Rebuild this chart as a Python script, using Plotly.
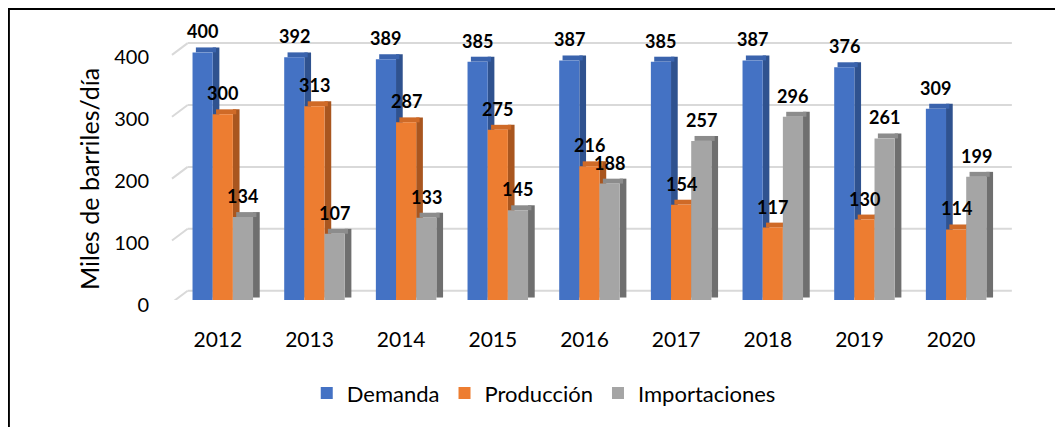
import plotly.graph_objects as go

years = ["2012", "2013", "2014", "2015", "2016", "2017", "2018", "2019", "2020"]
demanda = [400, 392, 389, 385, 387, 385, 387, 376, 309]
produccion = [300, 313, 287, 275, 216, 154, 117, 130, 114]
importaciones = [134, 107, 133, 145, 188, 257, 296, 261, 199]
yticks = [0, 100, 200, 300, 400]

# name, values, front colour, side colour, top colour, offset in category units
series = [
    ("Demanda", demanda, "#4472C4", "#2F528F", "#3A63AD", -0.276),
    ("Producción", produccion, "#ED7D31", "#A9561F", "#CF6A27", -0.056),
    ("Importaciones", importaciones, "#A5A5A5", "#6F6F6F", "#8C8C8C", 0.164),
]
bar_w = 0.22      # front face width
depth_x = 0.073   # side face width (category units)
depth_y = 8       # side face rise (value units)

x_idx = list(range(len(years)))

fig = go.Figure()
for name, vals, front, side, top, off in series:
    # side face
    fig.add_trace(go.Bar(x=x_idx, y=[v + depth_y / 2 for v in vals], base=depth_y / 2,
                         offset=off + bar_w, width=depth_x, marker=dict(color=side, line=dict(width=0)),
                         showlegend=False, hoverinfo="skip"))
    # top face
    fig.add_trace(go.Bar(x=x_idx, y=[depth_y] * len(vals), base=vals,
                         offset=off + depth_x / 2, width=bar_w, marker=dict(color=top, line=dict(width=0)),
                         showlegend=False, hoverinfo="skip"))
    # front face
    fig.add_trace(go.Bar(x=x_idx, y=vals, name=name, offset=off, width=bar_w,
                         marker=dict(color=front, line=dict(width=0))))

# data labels above each bar
for name, vals, front, side, top, off in series:
    for i, v in zip(x_idx, vals):
        fig.add_annotation(x=i + off + bar_w / 2, y=v, text=str(v), showarrow=False, yshift=21,
                           yanchor="middle", font=dict(family="Lato", size=18, color="black", weight="bold"))

# y axis title
fig.add_annotation(text="Miles de barriles/día", xref="paper", yref="paper", x=-0.1007, y=0.465,
                   textangle=-90, showarrow=False, xanchor="center", yanchor="middle",
                   font=dict(family="Lato", size=25, color="black"))

# back-wall gridlines with the little diagonal at the front
grid_shapes = []
for t in yticks:
    grid_shapes.append(dict(type="line", xref="paper", yref="y", x0=0.019, x1=1.018, y0=t + 15, y1=t + 15,
                            line=dict(color="#D9D9D9", width=2), layer="below"))
    grid_shapes.append(dict(type="line", xref="paper", yref="y", x0=0, x1=0.019, y0=t - 4, y1=t + 15,
                            line=dict(color="#D9D9D9", width=2), layer="below"))

fig.update_layout(
    width=1063, height=427,
    margin=dict(l=164, r=74, t=32, b=135),
    barmode="overlay",
    plot_bgcolor="white", paper_bgcolor="white",
    font=dict(family="Lato", color="black"),
    xaxis=dict(tickvals=x_idx, ticktext=years, range=[-0.5, len(years) - 0.5], autorange=False,
               showgrid=False, showline=False, zeroline=False, ticks="", tickfont=dict(size=21),
               ticklabelstandoff=25),
    yaxis=dict(range=[0, 420], autorange=False, tickvals=yticks, showgrid=False,
               zeroline=False, showline=False, tickfont=dict(size=20), ticklabelstandoff=22,
               ticklabelshift=5),
    legend=dict(orientation="h", xref="container", yref="container", x=0.504, y=0.098,
                xanchor="center", yanchor="middle", font=dict(size=22),
                itemwidth=30, traceorder="normal"),
    shapes=grid_shapes + [
        dict(type="line", xref="paper", yref="paper", x0=-0.199, x1=1.2, y0=1.119, y1=1.119,
             line=dict(color="black", width=2)),
        dict(type="line", xref="paper", yref="paper", x0=-0.1977, x1=-0.1977, y0=1.119, y1=-0.7,
             line=dict(color="black", width=2)),
    ],
)

fig.write_html("out.html")
